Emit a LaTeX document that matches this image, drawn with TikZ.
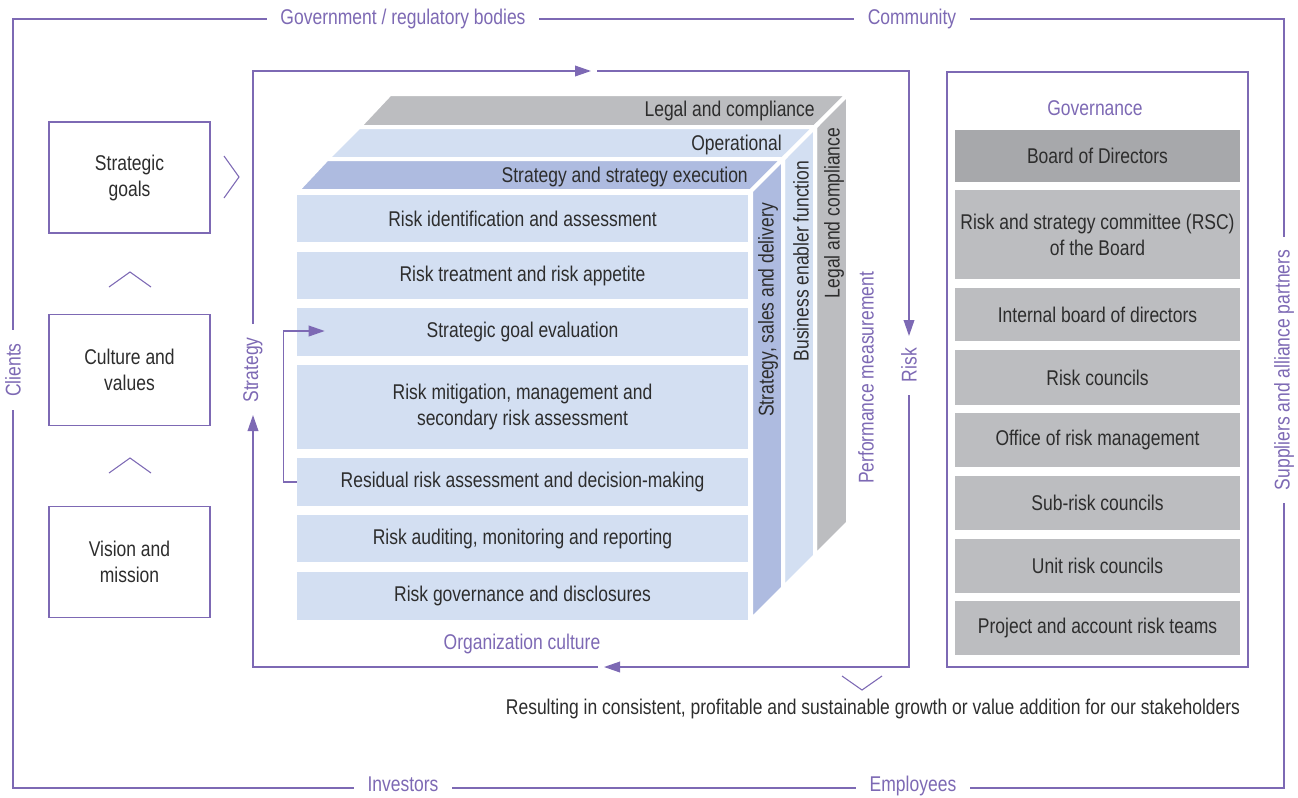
\documentclass[tikz,border=0pt]{standalone}
\usepackage{fontspec}
\setmainfont{Liberation Sans}[FakeStretch=0.82]
\usetikzlibrary{arrows.meta,calc}
\definecolor{pur}{RGB}{125,105,180}
\definecolor{lblue}{RGB}{211,223,242}
\definecolor{dblue}{RGB}{174,187,224}
\definecolor{lgrey}{RGB}{188,189,192}
\definecolor{dgrey}{RGB}{167,168,171}
\definecolor{txt}{RGB}{45,45,45}
\newcommand{\dfont}{\fontsize{16}{19.5}\selectfont}
\begin{document}
\begin{tikzpicture}[x=0.75pt,y=-0.75pt,
  every node/.style={font=\dfont, text=txt, inner sep=0pt},
  frameline/.style={draw=pur, line width=1.1pt},
  chev/.style={draw=pur, line width=0.8pt},
  tip/.style={-{Triangle[length=12pt,width=8pt]}},
  lbl/.style={text=pur, fill=white, inner xsep=10pt, inner ysep=2pt},
  plbl/.style={text=pur},
  leftbox/.style={draw=pur, line width=1.1pt, fill=white, minimum width=120.75pt, minimum height=83.25pt, align=center},
  rowbox/.style={fill=lblue, minimum width=338.25pt, align=center},
  govbox/.style={fill=lgrey, minimum width=213.75pt, align=center},
  slab/.style={draw=white, line width=3pt, line join=miter},
]
\useasboundingbox (0,0) rectangle (1298,797);

% outer frame
\draw[frameline] (13,19) rectangle (1284,788);
\node[lbl] (gvt) at (403,19) {Government / regulatory bodies};
\node[lbl] (com) at (912,19) {Community};
\node[lbl, anchor=base] (inv) at (403,791.5) {Investors};
\node[lbl, anchor=base] (emp) at (913,791.5) {Employees};
\node[lbl, rotate=90] (cli) at (13,370) {Clients};
\node[lbl, rotate=90] (sup) at (1284,370) {Suppliers and alliance partners};

% left boxes
\node[leftbox] (sg) at (129.5,177.5) {Strategic\\goals};
\node[leftbox] (cv) at (129.5,370) {Culture and\\values};
\node[leftbox] (vm) at (129.5,562) {Vision and\\mission};
\draw[chev] (109,287) -- (130,272) -- (151,287);
\draw[chev] (109,473) -- (130,458) -- (151,473);
\draw[chev] (224,156) -- (239,177) -- (224,198);
\draw[chev] (842,676) -- (862,690) -- (882,676);

% cube: back layer
\filldraw[slab, fill=lgrey] (359,127) -- (815,127) -- (848,94) -- (390,94) -- cycle;
\filldraw[slab, fill=lgrey] (815,127) -- (848,94) -- (848,523) -- (815,556) -- cycle;
% middle layer
\filldraw[slab, fill=lblue] (327,159) -- (783,159) -- (815,127) -- (359,127) -- cycle;
\filldraw[slab, fill=lblue] (783,159) -- (815,127) -- (815,556) -- (783,588) -- cycle;
% front layer
\filldraw[slab, fill=dblue] (297,191) -- (751,191) -- (783,159) -- (327,159) -- cycle;
\filldraw[slab, fill=dblue] (751,191) -- (783,159) -- (783,588) -- (751,620) -- cycle;

\node[anchor=east] (tl) at (815,111) {Legal and compliance};
\node[anchor=east] (to) at (782,145) {Operational};
\node[anchor=east] (ts) at (748,177) {Strategy and strategy execution};
\node[rotate=90] (ss) at (768,310) {Strategy, sales and delivery};
\node[rotate=90] (sb) at (801,261) {Business enabler function};
\node[rotate=90] (sl) at (834,213) {Legal and compliance};

% rows
\node[rowbox, minimum height=35.25pt] (r1) at (522.5,218.5) {Risk identification and assessment};
\node[rowbox, minimum height=35.25pt] (r2) at (522.5,275.5) {Risk treatment and risk appetite};
\node[rowbox, minimum height=36pt] (r3) at (522.5,332) {Strategic goal evaluation};
\node[rowbox, minimum height=63pt] (r4) at (522.5,407) {Risk mitigation, management and\\secondary risk assessment};
\node[rowbox, minimum height=36pt] (r5) at (522.5,482) {Residual risk assessment and decision-making};
\node[rowbox, minimum height=35.25pt] (r6) at (522.5,538.5) {Risk auditing, monitoring and reporting};
\node[rowbox, minimum height=36pt] (r7) at (522.5,596) {Risk governance and disclosures};

\draw[frameline, tip] (r5.west) -- ++(-13,0) |- ($(r3.west)+(28,-1)$);

% inner loop
\coordinate (c1) at (253,71);
\coordinate (c2) at (909,71);
\coordinate (c3) at (909,667);
\coordinate (c4) at (253,667);
\coordinate (t1) at (591,71);
\coordinate (t2) at (597,71);
\coordinate (r1a) at (909,336);
\coordinate (r2a) at (909,395);
\coordinate (b1) at (604,667);
\coordinate (b2) at (598,667);
\coordinate (l1) at (253,415);
\coordinate (l2) at (253,324);
\node[plbl, rotate=90] (strat) at (253,370) {Strategy};
\node[plbl, rotate=90] (risk) at (909,365) {Risk};
\node[plbl, rotate=90] (perf) at (866,378) {Performance measurement};
\node[plbl] (org) at (522,644) {Organization culture};
\draw[frameline, tip] (l2) -- (c1) -- (t1);
\draw[frameline, tip] (t2) -- (c2) -- (r1a);
\draw[frameline, tip] (r2a) -- (c3) -- (b1);
\draw[frameline, tip] (b2) -- (c4) -- (l1);

\node (res) at (873,709) {Resulting in consistent, profitable and sustainable growth or value addition for our stakeholders};

% governance
\node[draw=pur, line width=1.1pt, minimum width=225.75pt, minimum height=446.25pt] (gov) at (1097.5,369.5) {};
\node[plbl] (govt) at (1095,108) {Governance};
\node[govbox, fill=dgrey, minimum height=39pt] (g1) at (1097.5,156) {Board of Directors};
\node[govbox, minimum height=66.75pt] (g2) at (1097.5,234.5) {Risk and strategy committee (RSC)\\of the Board};
\node[govbox, minimum height=39.75pt] (g3) at (1097.5,314.5) {Internal board of directors};
\node[govbox, minimum height=41.25pt] (g4) at (1097.5,377.5) {Risk councils};
\node[govbox, minimum height=40.5pt] (g5) at (1097.5,440) {Office of risk management};
\node[govbox, minimum height=40.5pt] (g6) at (1097.5,503) {Sub-risk councils};
\node[govbox, minimum height=40.5pt] (g7) at (1097.5,566) {Unit risk councils};
\node[govbox, minimum height=40.5pt] (g8) at (1097.5,628) {Project and account risk teams};
\end{tikzpicture}
\end{document}
